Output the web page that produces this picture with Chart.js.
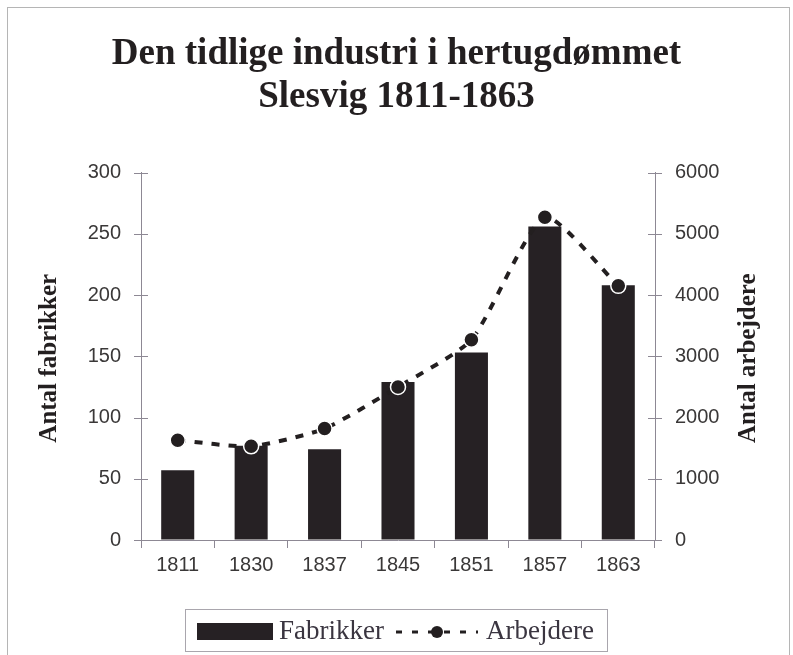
<!DOCTYPE html>
<html>
<head>
<meta charset="utf-8">
<script src="https://cdn.jsdelivr.net/npm/chart.js@4.4.1/dist/chart.umd.min.js"></script>
<style>
  html, body { margin: 0; padding: 0; background: #fff; }
  #wrap { width: 793px; height: 655px; position: relative; }
</style>
</head>
<body>
<div id="wrap"><canvas id="industri-chart" width="793" height="655"></canvas></div>
<script>
// data
var years = ["1811", "1830", "1837", "1845", "1851", "1857", "1863"];
var fabrikker = [57, 77, 74, 129, 153, 256, 208];
var arbejdere = [1630, 1530, 1820, 2500, 3270, 5270, 4150];

var titleLines = ["Den tidlige industri i hertugdømmet", "Slesvig 1811-1863"];
var leftTitle = "Antal fabrikker";
var rightTitle = "Antal arbejdere";

var axisGray = "#8d8894";
var barColor = "#262124";
var tickColor = "#3a3838";
var serif = "'Liberation Serif', 'Times New Roman', serif";
var sans = "'Liberation Sans', Arial, sans-serif";

// frame, rotated axis titles, cross ticks and legend drawn on the canvas
var extras = {
    id: "extras",
    beforeDraw: function(chart){
        var ctx = chart.ctx;
        ctx.save();
        ctx.fillStyle = "#fff";
        ctx.fillRect(0, 0, chart.width, chart.height);
        ctx.strokeStyle = "#b5b5b5";
        ctx.lineWidth = 1;
        ctx.strokeRect(7.5, 7.5, 782, 700);
        ctx.restore();
    },
    afterDraw: function(chart){
        var ctx = chart.ctx;
        var area = chart.chartArea;
        var midY = (area.top + area.bottom) / 2 + 2;
        ctx.save();
        ctx.fillStyle = "#231f20";
        ctx.font = "bold 25px " + serif;
        ctx.textAlign = "center";
        ctx.textBaseline = "middle";
        [[50, leftTitle], [749, rightTitle]].forEach(function(t){
            ctx.save();
            ctx.translate(t[0], midY);
            ctx.rotate(-Math.PI / 2);
            ctx.fillText(t[1], 0, 0);
            ctx.restore();
        });

        ctx.strokeStyle = axisGray;
        ctx.lineWidth = 1;
        ["y", "y1"].forEach(function(id){
            var sc = chart.scales[id];
            var x = id === "y" ? area.left : area.right;
            sc.ticks.forEach(function(tk){
                var py = Math.round(sc.getPixelForValue(tk.value)) + 0.5;
                ctx.beginPath();
                ctx.moveTo(x - 7, py);
                ctx.lineTo(x + 7, py);
                ctx.stroke();
            });
        });

        // legend
        var lx = 185, ly = 609, lw = 422, lh = 42;
        ctx.strokeStyle = "#a9a6ad";
        ctx.strokeRect(lx + 0.5, ly + 0.5, lw, lh);
        ctx.fillStyle = barColor;
        ctx.fillRect(197, 623, 76, 17);
        ctx.font = "27px " + serif;
        ctx.textAlign = "left";
        ctx.fillStyle = "#3a3540";
        ctx.fillText("Fabrikker", 279, 632);
        ctx.strokeStyle = "#231f20";
        ctx.lineWidth = 3;
        ctx.setLineDash([6, 10]);
        ctx.beginPath();
        ctx.moveTo(396, 632);
        ctx.lineTo(478, 632);
        ctx.stroke();
        ctx.setLineDash([]);
        ctx.fillStyle = "#231f20";
        ctx.beginPath();
        ctx.arc(437, 632, 6, 0, Math.PI * 2);
        ctx.fill();
        ctx.fillStyle = "#3a3540";
        ctx.fillText("Arbejdere", 486, 632);
        ctx.restore();
    }
};

function createIndustriChart(){
    new Chart(document.getElementById("industri-chart"), {
        data: {
            labels: years,
            datasets: [
                {
                    type: "line",
                    label: "Arbejdere",
                    data: arbejdere,
                    yAxisID: "y1",
                    borderColor: "#231f20",
                    borderWidth: 4,
                    borderDash: [8, 9],
                    tension: 0.2,
                    pointRadius: 7.5,
                    pointBackgroundColor: "#231f20",
                    pointBorderColor: "#ffffff",
                    pointBorderWidth: 1.5,
                    fill: false,
                    order: 0
                },
                {
                    type: "bar",
                    label: "Fabrikker",
                    data: fabrikker,
                    yAxisID: "y",
                    backgroundColor: barColor,
                    barPercentage: 0.45,
                    categoryPercentage: 1,
                    order: 1
                }
            ]
        },
        options: {
            responsive: false,
            animation: false,
            layout: { padding: { left: 0, right: 0, top: 0, bottom: 65 } },
            plugins: {
                legend: { display: false },
                tooltip: { enabled: false },
                title: {
                    display: true,
                    text: titleLines,
                    color: "#231f20",
                    font: { family: serif, size: 37, weight: "bold", lineHeight: 1.17 },
                    padding: { top: 33, bottom: 53 }
                }
            },
            scales: {
                x: {
                    offset: true,
                    grid: { offset: true, drawOnChartArea: false, color: axisGray, tickLength: 8 },
                    border: { color: axisGray },
                    ticks: { color: tickColor, font: { family: sans, size: 20 }, padding: 5 },
                    afterFit: function(sc){ sc.height = 50; }
                },
                y: {
                    position: "left",
                    min: 0, max: 300,
                    ticks: { stepSize: 50, color: tickColor, font: { family: sans, size: 20 }, padding: 6 },
                    grid: { drawOnChartArea: false, tickLength: 14, color: "rgba(0,0,0,0)" },
                    border: { color: axisGray },
                    afterFit: function(sc){ sc.width = 141; }
                },
                y1: {
                    position: "right",
                    min: 0, max: 6000,
                    ticks: {
                        stepSize: 1000, color: tickColor, font: { family: sans, size: 20 }, padding: 6,
                        callback: function(v){ return String(v); }
                    },
                    grid: { drawOnChartArea: false, tickLength: 14, color: "rgba(0,0,0,0)" },
                    border: { color: axisGray },
                    afterFit: function(sc){ sc.width = 138; }
                }
            }
        },
        plugins: [extras]
    });
}

createIndustriChart();
</script>
</body>
</html>
